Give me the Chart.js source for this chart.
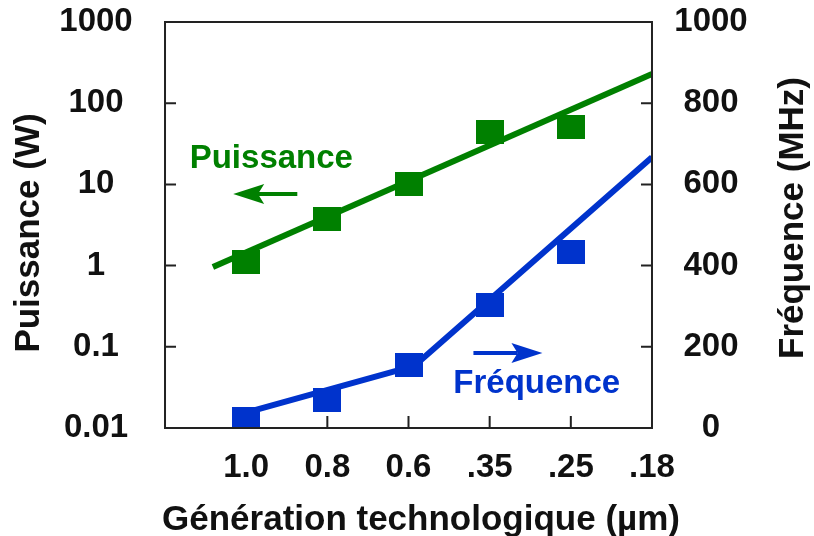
<!DOCTYPE html>
<html>
<head>
<meta charset="utf-8">
<script src="https://cdn.jsdelivr.net/npm/chart.js@4.4.1/dist/chart.umd.min.js"></script>
<style>
  html, body { margin: 0; padding: 0; background: #fff; }
  #wrap { width: 814px; height: 536px; }
</style>
</head>
<body>
<div id="wrap"><canvas id="graficoGeneration"></canvas></div>
<script>
// generations (x = 1 ... 6)
const generations = ['1.0', '0.8', '0.6', '.35', '.25', '.18'];
const puissance = [1.12, 3.75, 10.1, 44, 51, null];      // W
const frequence = [23, 69, 154, 304, 433, null];         // MHz

// trend lines
const puissanceTrendX = [0.59, 6];
const puissanceTrendY = [0.96, 229];
const frequenceTrendX = [0.93, 3.07, 6];
const frequenceTrendY = [34, 153, 667];

const puissanceTicks = [0.01, 0.1, 1, 10, 100, 1000];
const puissanceTickLabels = ['0.01', '0.1', '1', '10', '100', '1000'];
const frequenceTicks = [0, 200, 400, 600, 800, 1000];

const green = '#008000';
const blue = '#0033cc';
const ink = '#111';
const family = "'Liberation Sans', Arial, sans-serif";

// in-plot labels and arrows, in data coordinates
const labels = [
    { text: 'Puissance', color: green, axis: 'yP', x: 1.31, y: 15.9 },
    { text: 'Fréquence', color: blue, axis: 'yF', x: 4.58, y: 86 }
];
const arrows = [
    { color: green, axis: 'yP', x1: 1.63, x2: 0.84, y: 7.6 },
    { color: blue, axis: 'yF', x1: 3.8, x2: 4.65, y: 185 }
];

function square(color) {
    const c = document.createElement('canvas');
    c.width = 28;
    c.height = 24;
    const g = c.getContext('2d');
    g.fillStyle = color;
    g.fillRect(0, 0, 28, 24);
    return c;
}

function points(xs, ys) {
    return xs.map((x, i) => ({ x: x, y: ys[i] })).filter(p => p.y !== null);
}

const generationX = generations.map((g, i) => i + 1);

function title(ctx, text, x, y, rot) {
    ctx.save();
    ctx.translate(x, y);
    ctx.rotate(rot);
    ctx.fillText(text, 0, 0);
    ctx.restore();
}

const frame = {
    id: 'frame',
    beforeDatasetsDraw(chart) {
        const { ctx, chartArea: a, scales } = chart;
        ctx.save();
        ctx.strokeStyle = '#222';
        ctx.lineWidth = 2;
        ctx.beginPath();
        puissanceTicks.slice(1, -1).forEach(v => {
            const y = scales.yP.getPixelForValue(v);
            ctx.moveTo(a.left, y);
            ctx.lineTo(a.left + 11, y);
        });
        frequenceTicks.slice(1, -1).forEach(v => {
            const y = scales.yF.getPixelForValue(v);
            ctx.moveTo(a.right, y);
            ctx.lineTo(a.right - 11, y);
        });
        generationX.slice(0, -1).forEach(v => {
            const x = scales.x.getPixelForValue(v);
            ctx.moveTo(x, a.bottom);
            ctx.lineTo(x, a.bottom - 12);
        });
        ctx.stroke();
        ctx.restore();
    },
    afterDatasetsDraw(chart) {
        const { ctx, chartArea: a } = chart;
        ctx.save();
        ctx.strokeStyle = '#222';
        ctx.lineWidth = 2;
        ctx.strokeRect(a.left, a.top, a.right - a.left, a.bottom - a.top);
        ctx.restore();
    },
    afterDraw(chart) {
        const { ctx, scales } = chart;
        ctx.save();
        ctx.font = 'bold 33px ' + family;
        ctx.textAlign = 'center';
        ctx.textBaseline = 'alphabetic';
        labels.forEach(l => {
            ctx.fillStyle = l.color;
            ctx.fillText(l.text, scales.x.getPixelForValue(l.x), scales[l.axis].getPixelForValue(l.y));
        });
        arrows.forEach(ar => {
            const x1 = scales.x.getPixelForValue(ar.x1);
            const x2 = scales.x.getPixelForValue(ar.x2);
            const y = scales[ar.axis].getPixelForValue(ar.y);
            const dir = x2 > x1 ? 1 : -1;
            const head = 31;
            ctx.strokeStyle = ar.color;
            ctx.fillStyle = ar.color;
            ctx.lineWidth = 4;
            ctx.beginPath();
            ctx.moveTo(x1, y);
            ctx.lineTo(x2 - dir * head * 0.8, y);
            ctx.stroke();
            ctx.beginPath();
            ctx.moveTo(x2, y);
            ctx.lineTo(x2 - dir * head, y - 10);
            ctx.lineTo(x2 - dir * head * 0.8, y);
            ctx.lineTo(x2 - dir * head, y + 10);
            ctx.closePath();
            ctx.fill();
        });
        // axis titles
        ctx.fillStyle = ink;
        ctx.font = 'bold 35px ' + family;
        title(ctx, 'Génération technologique (µm)', 421, 530, 0);
        ctx.textBaseline = 'middle';
        title(ctx, 'Puissance (W)', 29, 233, -Math.PI / 2);
        title(ctx, 'Fréquence (MHz)', chart.width - 21, 218, -Math.PI / 2);
        ctx.restore();
    }
};

const tickFont = { family: family, size: 33, weight: 'bold', lineHeight: 1.1 };

new Chart(document.getElementById('graficoGeneration'), {
    type: 'scatter',
    data: {
        datasets: [{
            label: 'Puissance',
            data: points(generationX, puissance),
            yAxisID: 'yP',
            pointStyle: square(green),
            pointRadius: 12,
            clip: 0,
            order: 1
        }, {
            label: 'Fréquence',
            data: points(generationX, frequence),
            yAxisID: 'yF',
            pointStyle: square(blue),
            pointRadius: 12,
            clip: 0,
            order: 1
        }, {
            label: 'Puissance (tendance)',
            data: points(puissanceTrendX, puissanceTrendY),
            yAxisID: 'yP',
            showLine: true,
            borderColor: green,
            borderWidth: 6,
            pointRadius: 0,
            clip: 0,
            order: 2
        }, {
            label: 'Fréquence (tendance)',
            data: points(frequenceTrendX, frequenceTrendY),
            yAxisID: 'yF',
            showLine: true,
            borderColor: blue,
            borderWidth: 6,
            borderJoinStyle: 'round',
            pointRadius: 0,
            clip: 0,
            order: 2
        }]
    },
    options: {
        responsive: true,
        maintainAspectRatio: false,
        animation: false,
        events: [],
        layout: { padding: { top: 22, right: 63.3, left: 56.3, bottom: 47.35 } },
        plugins: {
            legend: { display: false },
            tooltip: { enabled: false }
        },
        scales: {
            x: {
                type: 'linear',
                min: 0,
                max: 6,
                grid: { display: false, drawTicks: true, tickLength: 18.35 },
                border: { display: false },
                afterBuildTicks: s => { s.ticks = [0].concat(generationX).map(v => ({ value: v })); },
                ticks: {
                    callback: v => generations[v - 1] || '',
                    font: tickFont,
                    color: ink,
                    padding: 3,
                    maxRotation: 0,
                    autoSkip: false
                }
            },
            yP: {
                type: 'logarithmic',
                position: 'left',
                min: 0.01,
                max: 1000,
                grid: { display: false, drawTicks: true, tickLength: 29.3 },
                border: { display: false },
                afterBuildTicks: s => { s.ticks = puissanceTicks.map(v => ({ value: v })); },
                ticks: {
                    callback: v => puissanceTickLabels[puissanceTicks.indexOf(v)],
                    font: tickFont,
                    color: ink,
                    crossAlign: 'center',
                    padding: 3
                }
            },
            yF: {
                type: 'linear',
                position: 'right',
                min: 0,
                max: 1000,
                grid: { display: false, drawTicks: true, tickLength: 19.3 },
                border: { display: false },
                afterBuildTicks: s => { s.ticks = frequenceTicks.map(v => ({ value: v })); },
                ticks: {
                    callback: v => String(v),
                    font: tickFont,
                    color: ink,
                    crossAlign: 'center',
                    padding: 3
                }
            }
        }
    },
    plugins: [frame]
});
</script>
</body>
</html>
